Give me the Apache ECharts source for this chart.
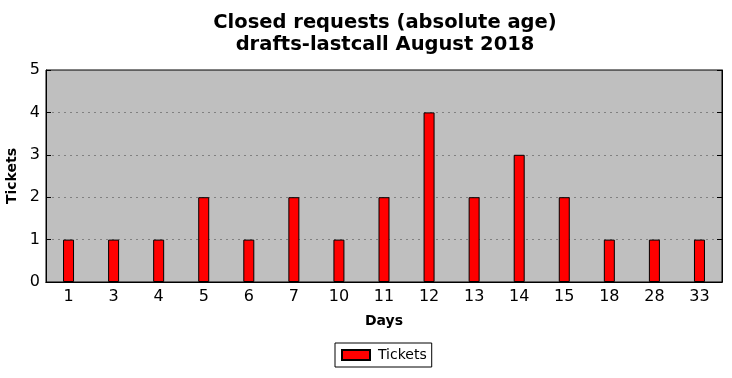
<!DOCTYPE html>
<html>
<head>
<meta charset="utf-8">
<script src="https://cdn.jsdelivr.net/npm/echarts@6/dist/echarts.min.js"></script>
<style>
html, body { margin: 0; padding: 0; background: #fff; }
#main { width: 732px; height: 378px; }
</style>
</head>
<body>
<div id="main"></div>
<script>
// ages in days and number of closed tickets
var days = ['1', '3', '4', '5', '6', '7', '10', '11', '12', '13', '14', '15', '18', '28', '33'];
var tickets = [1, 1, 1, 2, 1, 2, 1, 2, 4, 2, 3, 2, 1, 1, 1];
var yTicks = [0, 1, 2, 3, 4, 5];

var font = 'DejaVu Sans';
var myChart = echarts.init(document.getElementById('main'));

var option = {
    animation: false,
    textStyle: { fontFamily: font },
    title: {
        text: 'Closed requests (absolute age)\ndrafts-lastcall August 2018',
        left: 380,
        textAlign: 'center',
        top: 7,
        textStyle: { fontFamily: font, fontSize: 19.5, fontWeight: 'bold', color: '#000', lineHeight: 22 }
    },
    legend: {
        top: 343,
        left: 335,
        data: ['Tickets'],
        icon: 'rect',
        borderColor: '#000',
        borderWidth: 1,
        borderRadius: 0,
        padding: [5, 5, 5, 6],
        itemWidth: 28,
        itemHeight: 10,
        itemGap: 11,
        textStyle: { fontFamily: font, fontSize: 14, color: '#000', padding: [0, 0, 0, 3] }
    },
    grid: { left: 46, right: 10, top: 70, bottom: 96, outerBoundsMode: 'none', backgroundColor: '#bfbfbf', show: true, borderColor: '#000', borderWidth: 1 },
    xAxis: [{
        type: 'category',
        data: days,
        name: 'Days',
        nameLocation: 'middle',
        nameGap: 32,
        nameTextStyle: { fontFamily: font, fontSize: 14, fontWeight: 'bold', color: '#000' },
        axisLine: { lineStyle: { color: '#000' } },
        axisTick: { inside: true, alignWithLabel: true, length: 5, lineStyle: { color: '#000' } },
        axisLabel: { fontFamily: font, fontSize: 16, color: '#000', margin: 7 }
    }, {
        type: 'category',
        data: days,
        position: 'top',
        axisLine: { lineStyle: { color: '#000' } },
        axisTick: { inside: true, alignWithLabel: true, length: 5, lineStyle: { color: '#000' } },
        axisLabel: { show: false }
    }],
    yAxis: [{
        type: 'value',
        min: 0,
        max: yTicks[yTicks.length - 1],
        interval: 1,
        name: 'Tickets',
        nameLocation: 'middle',
        nameGap: 14,
        nameTextStyle: { fontFamily: font, fontSize: 14, fontWeight: 'bold', color: '#000' },
        axisLine: { show: true, lineStyle: { color: '#000' } },
        axisTick: { show: true, inside: true, length: 5, lineStyle: { color: '#000' } },
        axisLabel: { fontFamily: font, fontSize: 16, color: '#000', margin: 6 },
        splitLine: { show: true, showMinLine: false, showMaxLine: false, lineStyle: { color: '#808080', type: [2, 4], width: 1 } }
    }, {
        type: 'value',
        min: 0,
        max: yTicks[yTicks.length - 1],
        interval: 1,
        position: 'right',
        axisLine: { show: true, lineStyle: { color: '#000' } },
        axisTick: { show: true, inside: true, length: 5, lineStyle: { color: '#000' } },
        axisLabel: { show: false },
        splitLine: { show: false }
    }],
    series: [{
        name: 'Tickets',
        type: 'bar',
        data: tickets,
        barWidth: 11,
        itemStyle: { color: '#ff0000', borderColor: '#000', borderWidth: 1 }
    }]
};

myChart.setOption(option);
</script>
</body>
</html>
